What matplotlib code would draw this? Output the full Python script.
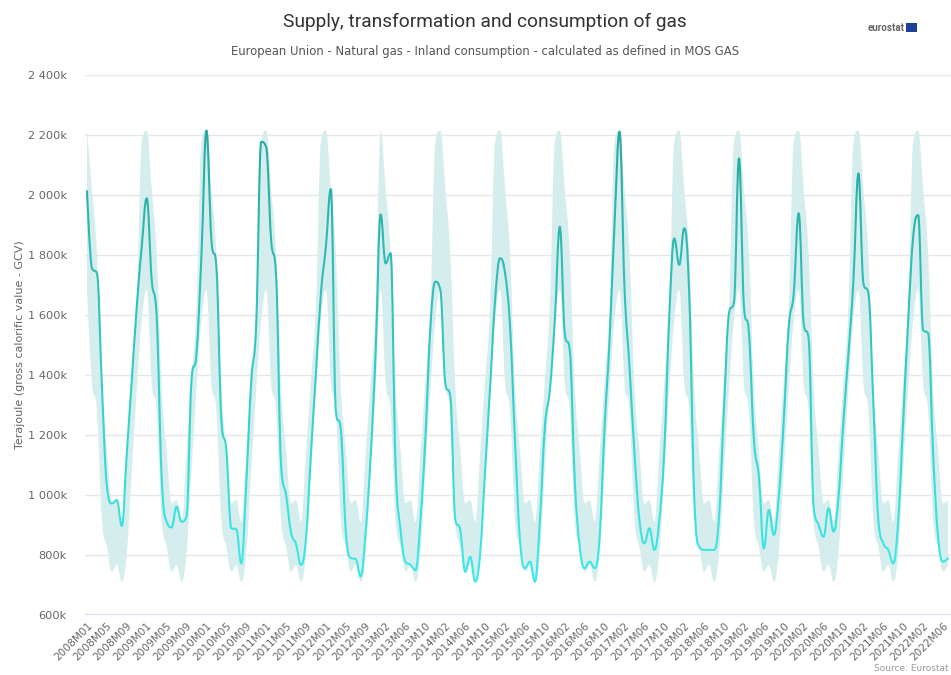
import matplotlib
matplotlib.use("Agg")
import matplotlib.pyplot as plt
from matplotlib.path import Path
from matplotlib.patches import PathPatch, Rectangle
import numpy as np

# categories: monthly, 2008M01..2022M07, 2012M12 is absent in the source table
months = [f"{y}M{m:02d}" for y in range(2008, 2023) for m in range(1, 13)]
categories = [c for c in months[:months.index("2022M07") + 1] if c != "2012M12"]

# inland consumption, thousand TJ
consumption = [
    2013, 1756, 1739, 1361, 1028, 972, 983, 897, 1140, 1383, 1628, 1828,   # 2008
    1989, 1717, 1594, 1060, 911, 892, 961, 911, 928, 1383, 1472, 1800,     # 2009
    2215, 1850, 1761, 1250, 1150, 889, 886, 772, 1040, 1380, 1570, 2177,   # 2010
    2160, 1850, 1730, 1100, 1000, 875, 836, 767, 855, 1139, 1406, 1672,    # 2011
    1828, 2020, 1280, 1217, 880, 790, 786, 728, 880, 1130, 1480,           # 2012 (no Dec)
    1935, 1772, 1806, 1100, 883, 778, 767, 750, 917, 1194, 1561, 1711,     # 2013
    1683, 1372, 1328, 917, 883, 744, 794, 711, 806, 1083, 1361, 1650,      # 2014
    1789, 1739, 1561, 1180, 850, 756, 778, 711, 917, 1228, 1350, 1583,     # 2015
    1894, 1539, 1483, 1050, 828, 756, 778, 756, 861, 1228, 1517, 1906,     # 2016
    2211, 1690, 1428, 1139, 917, 839, 889, 817, 917, 1150, 1600, 1855,     # 2017
    1767, 1889, 1670, 1000, 828, 817, 817, 817, 928, 1294, 1606, 1644,     # 2018
    2122, 1628, 1539, 1183, 1061, 822, 950, 867, 994, 1250, 1561, 1672,    # 2019
    1939, 1572, 1520, 960, 900, 861, 956, 878, 994, 1250, 1472, 1717,      # 2020
    2072, 1706, 1672, 1306, 917, 839, 817, 772, 917, 1250, 1583, 1861,     # 2021
    1933, 1550, 1539, 1139, 861, 778, 789,                                 # 2022
]

y_ticks = [600, 800, 1000, 1200, 1400, 1600, 1800, 2000, 2200, 2400]

LINE_HIGH = np.array([0x29, 0xa8, 0xa1]) / 255
LINE_LOW = np.array([0x3f, 0xea, 0xe8]) / 255
BAND = "#d5eeed"


def spline_controls(xs, ys):
    # same control points as a Highcharts spline (smoothing 1.5)
    n = len(xs)
    lc = [(xs[i], ys[i]) for i in range(n)]
    rc = [(xs[i], ys[i]) for i in range(n)]
    for i in range(1, n - 1):
        x, y = xs[i], ys[i]
        px, py, nx, ny = xs[i - 1], ys[i - 1], xs[i + 1], ys[i + 1]
        lx, ly = (1.5 * x + px) / 2.5, (1.5 * y + py) / 2.5
        rx, ry = (1.5 * x + nx) / 2.5, (1.5 * y + ny) / 2.5
        if rx != lx:
            corr = (ry - ly) * (rx - x) / (rx - lx) + y - ry
            ly += corr
            ry += corr
        if ly > py and ly > y:
            ly = max(py, y); ry = 2 * y - ly
        elif ly < py and ly < y:
            ly = min(py, y); ry = 2 * y - ly
        if ry > ny and ry > y:
            ry = max(ny, y); ly = 2 * y - ry
        elif ry < ny and ry < y:
            ry = min(ny, y); ly = 2 * y - ry
        lc[i] = (lx, ly)
        rc[i] = (rx, ry)
    return lc, rc


def spline_path(xs, ys):
    lc, rc = spline_controls(xs, ys)
    verts = [(xs[0], ys[0])]
    codes = [Path.MOVETO]
    for i in range(1, len(xs)):
        verts += [rc[i - 1], lc[i], (xs[i], ys[i])]
        codes += [Path.CURVE4] * 3
    return verts, codes


def range_path(xs, lo, hi):
    vu, cu = spline_path(xs, hi)
    vl, cl = spline_path(xs[::-1], lo[::-1])
    verts = vu + [vl[0]] + vl[1:] + [vu[0]]
    codes = cu + [Path.LINETO] + cl[1:] + [Path.CLOSEPOLY]
    return Path(verts, codes)


x = np.arange(len(categories))
vals = np.array(consumption, dtype=float)
cal_month = np.array([int(c[-2:]) for c in categories])
band_hi = np.array([vals[cal_month == m].max() for m in cal_month])
band_lo = np.array([vals[cal_month == m].min() for m in cal_month])

fig = plt.figure(figsize=(9.51, 6.75), dpi=100)
ax = fig.add_axes([85 / 951, 60 / 675, 866 / 951, 540 / 675])
ax.set_xlim(-0.4, 173.6)
ax.set_ylim(600, 2400)

for t in y_ticks[1:]:
    ax.axhline(t, color="#e6e6e6", lw=1, zorder=0)
ax.axhline(600, color="#ccd6eb", lw=1.2, zorder=0)

ax.add_patch(PathPatch(range_path(list(x), list(band_lo), list(band_hi)),
                       facecolor=BAND, edgecolor="none", zorder=1))

# line with a vertical colour gradient: draw the spline clipped to thin strips
verts, codes = spline_path(list(x), list(vals))
line_path = Path(verts, codes)
vmin, vmax = vals.min(), vals.max()
edges = np.linspace(600, 2400, 91)
for a, b in zip(edges[:-1], edges[1:]):
    f = np.clip(((a + b) / 2 - vmin) / (vmax - vmin), 0, 1)
    col = LINE_LOW + (LINE_HIGH - LINE_LOW) * f
    p = PathPatch(line_path, facecolor="none", edgecolor=col, lw=1.5,
                  capstyle="round", joinstyle="round", zorder=3)
    ax.add_patch(p)
    clip = Rectangle((-5, a - 1), 190, b - a + 2, transform=ax.transData)
    p.set_clip_path(clip)

for s in ax.spines.values():
    s.set_visible(False)

ax.set_yticks(y_ticks)
ax.set_yticklabels([f"{t // 1000} {t % 1000:03d}k" if t >= 1000 else f"{t}k" for t in y_ticks])
ax.set_xticks(x[::4])
ax.set_xticklabels(categories[::4], rotation=45, ha="right", rotation_mode="anchor")
ax.tick_params(axis="y", length=0, pad=13, labelsize=8.2, labelcolor="#666666")
ax.tick_params(axis="x", length=0, pad=4, labelsize=7.6, labelcolor="#666666")

ax.set_ylabel("Terajoule (gross calorific value - GCV)", fontsize=8, color="#666666", labelpad=2)

fig.text(0.51, 0.967, "Supply, transformation and consumption of gas",
         ha="center", va="center", fontsize=13.8, color="#333333", family=["Roboto", "DejaVu Sans"])
fig.text(0.51, 0.923, "European Union - Natural gas - Inland consumption - calculated as defined in MOS GAS",
         ha="center", va="center", fontsize=8.4, color="#555555")
fig.text(0.951, 0.959, "eurostat", ha="right", va="center", fontsize=7,
         color="#666666", fontweight="bold", family=["Roboto", "DejaVu Sans"])
fig.patches.append(Rectangle((0.953, 0.953), 0.011, 0.013, transform=fig.transFigure,
                             facecolor="#1d3f9e", edgecolor="none"))
fig.text(0.998, 0.003, "Source: Eurostat", ha="right", va="bottom", fontsize=6.5, color="#999999")

fig.savefig("out.png", dpi=100)
